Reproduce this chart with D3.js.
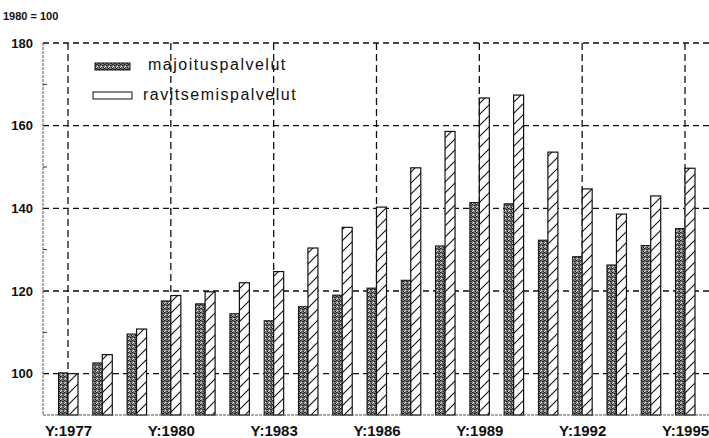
<!DOCTYPE html>
<html>
<head>
<meta charset="UTF-8">
<title>Hintaindeksi</title>
<script src="https://cdn.jsdelivr.net/npm/d3@7"></script>
<style>
* { margin: 0; padding: 0; }
body { background: #fff; }
#chart { display: block; }
text { font-family: "Liberation Sans", Arial, sans-serif; fill: #111; }
</style>
</head>
<body>
<svg id="chart"></svg>
<script>
// arvot luettu kuvasta (1980 = 100)
const years = d3.range(1977, 1996);
const majoitus = [100.2, 102.6, 109.6, 117.6, 116.9, 114.5, 112.8, 116.2, 119.0, 120.7,
                  122.6, 130.9, 141.4, 141.1, 132.3, 128.3, 126.3, 131.0, 135.1];
const ravitsemis = [100.0, 104.6, 110.8, 118.9, 119.8, 122.0, 124.7, 130.4, 135.4, 140.3,
                    149.8, 158.6, 166.7, 167.4, 153.6, 144.7, 138.6, 143.0, 149.7];
const yTicks = [100, 120, 140, 160, 180];
const yMinor = [110, 130, 150, 170];
const xLabelYears = [1977, 1980, 1983, 1986, 1989, 1992, 1995];
const seriesNames = ["majoituspalvelut", "ravitsemispalvelut"];

const W = 709, H = 438;
const mLeft = 43, mTop = 43, mBottom = 415, mRight = 716;

const svg = d3.select("#chart").attr("width", W).attr("height", H);

// kuviot
const defs = svg.append("defs");
const dots = defs.append("pattern").attr("id", "dots")
  .attr("patternUnits", "userSpaceOnUse").attr("width", 4).attr("height", 4);
dots.append("rect").attr("width", 4).attr("height", 4).attr("fill", "#767676");
[[0,0,"#1a1a1a"],[2,1,"#222"],[1,2,"#e6e6e6"],[3,3,"#1a1a1a"],[0,3,"#cfcfcf"],[3,1,"#333"],[1,0,"#555"]].forEach(p => {
  dots.append("rect").attr("x", p[0]).attr("y", p[1]).attr("width", 1).attr("height", 1).attr("fill", p[2]);
});
const hatch = defs.append("pattern").attr("id", "hatch")
  .attr("patternUnits", "userSpaceOnUse").attr("width", 11).attr("height", 11);
hatch.append("rect").attr("width", 11).attr("height", 11).attr("fill", "#fff");
hatch.append("path").attr("d", "M0,11 L11,0 M-2,2 L2,-2 M9,13 L13,9")
  .attr("stroke", "#111").attr("stroke-width", 1.1);

const x = d3.scalePoint().domain(years).range([68, 685]);
const y = d3.scaleLinear().domain([90, 180]).range([mBottom, mTop]);

// ruudukko
const g = svg.append("g");
g.selectAll(".hgrid").data(yTicks).enter().append("line")
  .attr("x1", mLeft).attr("x2", mRight)
  .attr("y1", d => y(d)).attr("y2", d => y(d))
  .attr("stroke", "#111").attr("stroke-width", 1.3).attr("stroke-dasharray", "6,4");
g.selectAll(".vgrid").data(xLabelYears).enter().append("line")
  .attr("x1", d => x(d)).attr("x2", d => x(d))
  .attr("y1", mTop).attr("y2", mBottom)
  .attr("stroke", "#111").attr("stroke-width", 1.3).attr("stroke-dasharray", "7,4");

// pylväät
const bw = 9.5;
g.selectAll(".maj").data(years).enter().append("rect")
  .attr("x", d => x(d) - bw)
  .attr("y", (d, i) => y(majoitus[i]))
  .attr("width", bw)
  .attr("height", (d, i) => mBottom - y(majoitus[i]))
  .attr("fill", "url(#dots)").attr("stroke", "#111").attr("stroke-width", 1);
g.selectAll(".rav").data(years).enter().append("rect")
  .attr("x", d => x(d))
  .attr("y", (d, i) => y(ravitsemis[i]))
  .attr("width", bw + 0.5)
  .attr("height", (d, i) => mBottom - y(ravitsemis[i]))
  .attr("fill", "url(#hatch)").attr("stroke", "#111").attr("stroke-width", 1.2);

// akselit
const yAxis = d3.axisLeft(y).tickValues(yTicks).tickSize(0).tickPadding(10);
const ya = svg.append("g").attr("transform", `translate(${mLeft},0)`).call(yAxis);
ya.select(".domain").attr("d", `M0,${mTop}V${mBottom}`)
  .attr("stroke", "#555").attr("stroke-width", 1).attr("stroke-dasharray", "3,1");
ya.selectAll("text").style("font-size", "13px").style("font-weight", "bold");
svg.selectAll(".minor").data(yMinor).enter().append("line")
  .attr("x1", mLeft).attr("x2", mLeft + 4)
  .attr("y1", d => y(d)).attr("y2", d => y(d))
  .attr("stroke", "#333");

const xAxis = d3.axisBottom(x).tickValues(xLabelYears).tickSize(0).tickPadding(10)
  .tickFormat(d => "Y:" + d);
const xa = svg.append("g").attr("transform", `translate(0,${mBottom})`).call(xAxis);
xa.select(".domain").attr("d", `M${mLeft},0H${mRight}`)
  .attr("stroke", "#555").attr("stroke-width", 1).attr("stroke-dasharray", "3,1");
xa.selectAll("text").style("font-size", "15px").style("font-weight", "bold")
  .attr("dy", null).attr("y", 21);

svg.append("text").attr("x", 3).attr("y", 20)
  .style("font-size", "11px").style("font-weight", "bold").text("1980 = 100");

// selite
const leg = svg.append("g");
const legRows = [
  { sx: 95, sy: 63, sw: 35, tx: 148, ty: 70 },
  { sx: 93, sy: 92, sw: 39, tx: 143, ty: 100 }
];
seriesNames.forEach((name, i) => {
  const r = legRows[i];
  leg.append("rect").attr("x", r.sx).attr("y", r.sy).attr("width", r.sw).attr("height", 7)
    .attr("fill", i === 0 ? "url(#dots)" : "#fff").attr("stroke", "#111").attr("stroke-width", 1);
  leg.append("text").attr("x", r.tx).attr("y", r.ty)
    .style("font-size", "16px").style("letter-spacing", "1.5px").text(name);
});
</script>
</body>
</html>
